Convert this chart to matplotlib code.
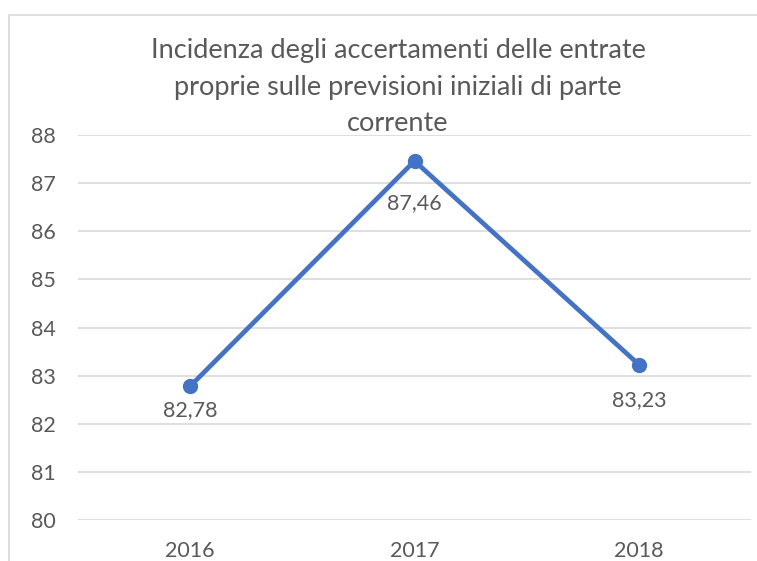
import matplotlib.pyplot as plt
from matplotlib.patches import Rectangle

years = ["2016", "2017", "2018"]
values = [82.78, 87.46, 83.23]
labels = ["82,78", "87,46", "83,23"]
title = "Incidenza degli accertamenti delle entrate\nproprie sulle previsioni iniziali di parte\ncorrente"

# label distance below each point (pixels), as placed in the original
label_drop = [24, 42, 36]

plt.rcParams['font.family'] = ['Lato', 'DejaVu Sans']
txt = "#595959"
blue = "#4472C4"

fig = plt.figure(figsize=(7.57, 5.61), dpi=100)
fig.patches.append(Rectangle((9/757, -0.1), 1.2, 1.1 - 15/561, transform=fig.transFigure,
                             fill=False, edgecolor="#D9D9D9", linewidth=1.2))

ax = fig.add_axes([78/757, 1 - 520/561, 673/757, 385/561])
x = range(len(years))
ax.plot(x, values, color=blue, linewidth=3.4, marker="o", markersize=10, zorder=3)
for i, (v, l) in enumerate(zip(values, labels)):
    ax.annotate(l, (i, v), xytext=(0, -label_drop[i]), textcoords="offset pixels",
                ha="center", va="center", fontsize=15.5, color=txt)

ax.set_xlim(-0.5, 2.5)
ax.set_ylim(80, 88)
ax.set_yticks(range(80, 89))
ax.set_xticks(list(x))
ax.set_xticklabels(years)
ax.grid(axis="y", color="#D9D9D9", linewidth=1.2)
ax.set_axisbelow(True)
for s in ax.spines.values():
    s.set_visible(False)
ax.tick_params(length=0, labelsize=15.5, labelcolor=txt)
ax.tick_params(axis="y", pad=16)
ax.tick_params(axis="x", pad=15)

fig.text(398/757, 1 - 87/561, title, ha="center", va="center", fontsize=19.5,
         color=txt, linespacing=1.58)

fig.savefig("out.png", dpi=100)
